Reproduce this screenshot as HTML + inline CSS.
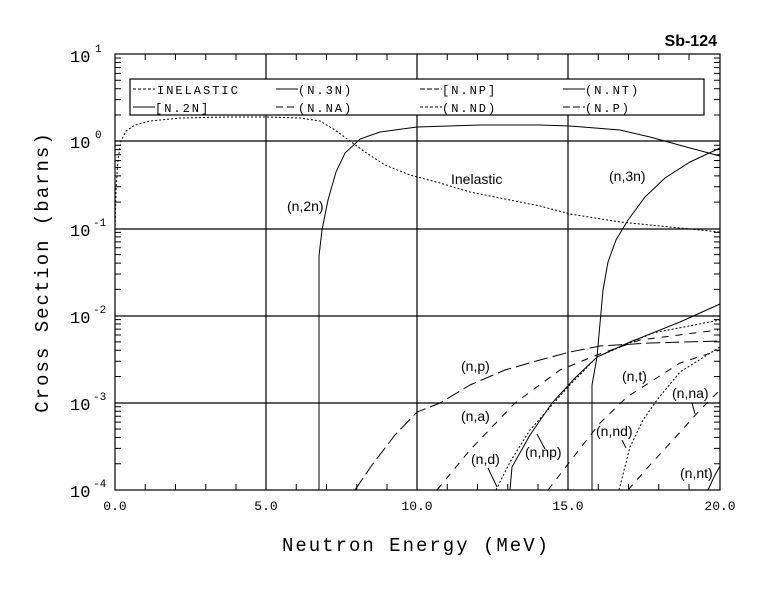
<!DOCTYPE html>
<html><head><meta charset="utf-8"><style>
html,body{margin:0;padding:0;background:#fff;}
svg{display:block;}
text{font-family:"Liberation Sans",sans-serif;}
.m{font-family:"Liberation Mono",monospace;}
</style></head><body>
<svg width="780" height="590" viewBox="0 0 780 590" xmlns="http://www.w3.org/2000/svg">
<rect width="780" height="590" fill="#fff"/>
<defs>
<path id="dec" d="M115,-26.25h6M115,-41.6h6M115,-52.5h6M115,-60.95h6M115,-67.85h6M115,-73.7h6M115,-78.75h6M115,-83.2h6M720,-26.25h-6M720,-41.6h-6M720,-52.5h-6M720,-60.95h-6M720,-67.85h-6M720,-73.7h-6M720,-78.75h-6M720,-83.2h-6" stroke="#000" stroke-width="1" fill="none"/>
</defs>
<use href="#dec" transform="translate(0,490)"/>
<use href="#dec" transform="translate(0,402.8)"/>
<use href="#dec" transform="translate(0,315.6)"/>
<use href="#dec" transform="translate(0,228.4)"/>
<use href="#dec" transform="translate(0,141.2)"/>
<path stroke="#000" stroke-width="1" fill="none" d="M145.25,490v-6M175.5,490v-6M205.75,490v-6M236,490v-6M296.25,490v-6M326.5,490v-6M356.75,490v-6M387,490v-6M447.25,490v-6M477.5,490v-6M507.75,490v-6M538,490v-6M598.25,490v-6M628.5,490v-6M658.75,490v-6M689,490v-6M145.25,54v6M175.5,54v6M205.75,54v6M236,54v6M296.25,54v6M326.5,54v6M356.75,54v6M387,54v6M447.25,54v6M477.5,54v6M507.75,54v6M538,54v6M598.25,54v6M628.5,54v6M658.75,54v6M689,54v6"/>
<g stroke="#000" stroke-width="1.2" fill="none">
<rect x="115" y="54" width="605" height="436"/>
<line x1="266" y1="54" x2="266" y2="490"/>
<line x1="417" y1="54" x2="417" y2="490"/>
<line x1="568" y1="54" x2="568" y2="490"/>
<line x1="115" y1="141" x2="720" y2="141"/>
<line x1="115" y1="229" x2="720" y2="229"/>
<line x1="115" y1="316" x2="720" y2="316"/>
<line x1="115" y1="403" x2="720" y2="403"/>
</g>
<!-- legend -->
<rect x="130" y="79" width="574" height="36" fill="#fff" stroke="#000" stroke-width="1.2"/>
<g fill="none" stroke="#000" stroke-width="1">
<polyline stroke-dasharray="2,2" points="115,230 116,190 118,160 121,141 126,131 135,125 150,121 180,118 230,117 266,117 300,118 320,121 335,130 350,141 365,152 385,165 410,175 440,183 470,192 500,198 540,206 570,214 620,222 680,228 720,232"/>
<polyline points="319,490 319,256 322,230 328,200 336,172 345,153 360,139 380,132 417,127 480,125 540,125 570,126 620,130 650,137 690,148 720,156"/>
<polyline points="592,490 592,385 597,357 603,290 608,262 616,240 628,220 645,197 665,178 690,162 720,148"/>
<polyline stroke-dasharray="14,5" points="355,490 372,465 395,435 417,412 440,403 470,385 505,370 540,360 570,352 600,346 650,343 720,341"/>
<polyline stroke-dasharray="7,7" points="437,490 470,450 515,403 560,370 597,355 640,340 718,330"/>
<polyline stroke-dasharray="2,2" points="496,490 510,462 530,430 568,387 597,357 653,333 720,320"/>
<polyline points="510,490 512,467 530,435 552,403 575,378 597,357 630,342 680,322 720,304"/>
<polyline stroke-dasharray="7,7" points="548,490 575,455 600,423 627,397 680,363 720,350"/>
<polyline stroke-dasharray="2,2" points="619,490 630,447 643,420 657,400 680,372 720,347"/>
<polyline stroke-dasharray="7,7" points="628,490 650,465 673,440 700,410 720,390"/>
<polyline points="708,490 714,477 720,466"/>
<line x1="488" y1="468" x2="497" y2="487"/>
<line x1="537" y1="434" x2="545" y2="449"/>
<line x1="622" y1="440" x2="626" y2="448"/>
<line x1="692" y1="403" x2="695" y2="414"/>
<line x1="133" y1="89" x2="155" y2="89" stroke-dasharray="3,2"/>
<line x1="276" y1="89" x2="298" y2="89"/>
<line x1="420" y1="89" x2="442" y2="89" stroke-dasharray="5,2"/>
<line x1="563" y1="89" x2="585" y2="89"/>
<line x1="133" y1="107" x2="155" y2="107"/>
<line x1="276" y1="107" x2="298" y2="107" stroke-dasharray="7,4"/>
<line x1="420" y1="107" x2="442" y2="107" stroke-dasharray="3,2"/>
<line x1="563" y1="107" x2="585" y2="107" stroke-dasharray="7,3"/>
</g>
<g font-size="12" fill="#000" letter-spacing="2">
<text x="157" y="94" class="m">INELASTIC</text>
<text x="298" y="94" class="m">(N.3N)</text>
<text x="442" y="94" class="m">[N.NP]</text>
<text x="585" y="94" class="m">(N.NT)</text>
<text x="155" y="112" class="m">[N.2N]</text>
<text x="298" y="112" class="m">(N.NA)</text>
<text x="442" y="112" class="m">(N.ND)</text>
<text x="585" y="112" class="m">(N.P)</text>
</g>
<g font-size="14" fill="#000">
<text x="287" y="211">(n,2n)</text>
<text x="451" y="184">Inelastic</text>
<text x="609" y="181">(n,3n)</text>
<text x="461" y="371">(n,p)</text>
<text x="461" y="421">(n,a)</text>
<text x="471" y="464">(n,d)</text>
<text x="525" y="457">(n,np)</text>
<text x="622" y="381">(n,t)</text>
<text x="672" y="398">(n,na)</text>
<text x="596" y="436">(n,nd)</text>
<text x="680" y="478">(n,nt)</text>
</g>
<text x="717" y="46" text-anchor="end" font-size="16" font-weight="bold">Sb-124</text>
<g font-size="17" fill="#000">
<text x="70" y="62" class="m">10</text><text x="95" y="52" font-size="11" class="m">1</text>
<text x="70" y="148" class="m">10</text><text x="95" y="138" font-size="11" class="m">0</text>
<text x="70" y="236" class="m">10</text><text x="93" y="226" font-size="11" class="m">-1</text>
<text x="70" y="323" class="m">10</text><text x="93" y="313" font-size="11" class="m">-2</text>
<text x="70" y="410" class="m">10</text><text x="93" y="400" font-size="11" class="m">-3</text>
<text x="70" y="497" class="m">10</text><text x="93" y="487" font-size="11" class="m">-4</text>
</g>
<g font-size="13" fill="#000" text-anchor="middle">
<text x="115" y="510" class="m">0.0</text>
<text x="266" y="510" class="m">5.0</text>
<text x="417" y="510" class="m">10.0</text>
<text x="568" y="510" class="m">15.0</text>
<text x="720" y="510" class="m">20.0</text>
</g>
<text x="416" y="551" text-anchor="middle" class="m" font-size="19" letter-spacing="2">Neutron Energy (MeV)</text>
<text transform="translate(48,272) rotate(-90)" text-anchor="middle" class="m" font-size="19" letter-spacing="2">Cross Section (barns)</text>
</svg>
</body></html>
